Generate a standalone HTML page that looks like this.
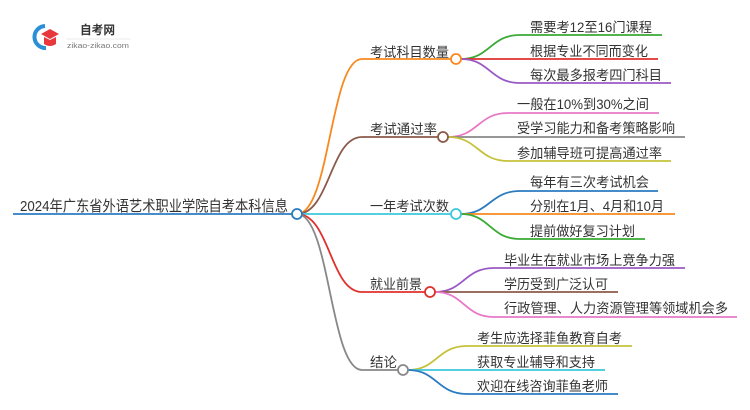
<!DOCTYPE html>
<html><head><meta charset="utf-8"><style>
html,body{margin:0;padding:0;background:#fff;}
svg{display:block;}
text{font-family:"Liberation Sans","Noto Sans CJK SC",sans-serif;fill:#333;font-size:13.5px;}
</style></head><body>
<svg width="750" height="410" viewBox="0 0 750 410" xmlns="http://www.w3.org/2000/svg">
<path d="M45 26 A11 11 0 1 0 46 48" fill="none" stroke="#2a8fd6" stroke-width="4"/>
<path d="M41 34 L50 29 L59 34 L50 39 Z" fill="#e8383d"/>
<path d="M44 37 L44 44 Q50 48 56 44 L56 37 L50 40 Z" fill="#e8383d"/>
<text x="80" y="34" textLength="35" lengthAdjust="spacingAndGlyphs" style="font-size:12px;font-weight:bold;fill:#333">自考网</text>
<line x1="66" y1="39" x2="130" y2="39" stroke="#e4e4e4" stroke-width="0.8"/>
<text x="67" y="48" textLength="62" lengthAdjust="spacingAndGlyphs" style="font-size:7.5px;fill:#777">zikao-zikao.com</text>

<g fill="none" stroke-width="1.8">
<line x1="13" y1="214" x2="292" y2="214" stroke="#2b7bc0"/>
<path d="M297 214 C330 214 330 59 362 59 L451 59" stroke="#f7891e"/>
<path d="M297 214 C330 214 330 137 362 137 L438 137" stroke="#8b5a4a"/>
<path d="M297 214 L451 214" stroke="#3cc8dc"/>
<path d="M297 214 C330 214 330 292 362 292 L425 292" stroke="#e0302c"/>
<path d="M297 214 C330 214 330 370 362 370 L398 370" stroke="#888"/>
<path d="M461 59 C490 59 490 35 520 35 L662 35" stroke="#3aaa35"/>
<path d="M461 59 L658 59" stroke="#e0302c"/>
<path d="M461 59 C490 59 490 83 520 83 L671 83" stroke="#9b59c6"/>
<path d="M448 137 C478 137 478 113 508 113 L659 113" stroke="#e879c8"/>
<path d="M448 137 L685 137" stroke="#888"/>
<path d="M448 137 C478 137 478 161 508 161 L671 161" stroke="#c5c23a"/>
<path d="M461 214 C490 214 490 191 520 191 L658 191" stroke="#2b7bc0"/>
<path d="M461 214 L675 214" stroke="#f7891e"/>
<path d="M461 214 C490 214 490 239 520 239 L645 239" stroke="#3aaa35"/>
<path d="M435 292 C464 292 464 268 494 268 L685 268" stroke="#9b59c6"/>
<path d="M435 292 L618 292" stroke="#8b5a4a"/>
<path d="M435 292 C464 292 464 317 494 317 L737 317" stroke="#e879c8"/>
<path d="M408 370 C437 370 437 346 467 346 L632 346" stroke="#c5c23a"/>
<path d="M408 370 L605 370" stroke="#3cc8dc"/>
<path d="M408 370 C437 370 437 394 467 394 L618 394" stroke="#2b7bc0"/>
</g>
<g fill="#fff" stroke-width="1.8">
<circle cx="297" cy="214" r="5" stroke="#2b7bc0"/>
<circle cx="456" cy="59" r="5" stroke="#f7891e"/>
<circle cx="443" cy="137" r="5" stroke="#8b5a4a"/>
<circle cx="456" cy="214" r="5" stroke="#3cc8dc"/>
<circle cx="430" cy="292" r="5" stroke="#e0302c"/>
<circle cx="403" cy="370" r="5" stroke="#888"/>
</g>
<text x="20" y="211" textLength="268" lengthAdjust="spacingAndGlyphs" style="font-size:15px">2024年广东省外语艺术职业学院自考本科信息</text>
<text x="370" y="57" textLength="79" lengthAdjust="spacingAndGlyphs">考试科目数量</text>
<text x="370" y="134" textLength="67" lengthAdjust="spacingAndGlyphs">考试通过率</text>
<text x="370" y="211" textLength="79" lengthAdjust="spacingAndGlyphs">一年考试次数</text>
<text x="370" y="289" textLength="52" lengthAdjust="spacingAndGlyphs">就业前景</text>
<text x="370" y="367" textLength="27" lengthAdjust="spacingAndGlyphs">结论</text>

<text x="530" y="32" textLength="122" lengthAdjust="spacingAndGlyphs">需要考12至16门课程</text>
<text x="530" y="56" textLength="118" lengthAdjust="spacingAndGlyphs">根据专业不同而变化</text>
<text x="530" y="80" textLength="132" lengthAdjust="spacingAndGlyphs">每次最多报考四门科目</text>
<text x="517" y="109" textLength="132" lengthAdjust="spacingAndGlyphs">一般在10%到30%之间</text>
<text x="517" y="133" textLength="158" lengthAdjust="spacingAndGlyphs">受学习能力和备考策略影响</text>
<text x="517" y="158" textLength="145" lengthAdjust="spacingAndGlyphs">参加辅导班可提高通过率</text>
<text x="530" y="187" textLength="119" lengthAdjust="spacingAndGlyphs">每年有三次考试机会</text>
<text x="530" y="211" textLength="134" lengthAdjust="spacingAndGlyphs">分别在1月、4月和10月</text>
<text x="530" y="236" textLength="105" lengthAdjust="spacingAndGlyphs">提前做好复习计划</text>
<text x="504" y="265" textLength="171" lengthAdjust="spacingAndGlyphs">毕业生在就业市场上竞争力强</text>
<text x="504" y="289" textLength="104" lengthAdjust="spacingAndGlyphs">学历受到广泛认可</text>
<text x="504" y="313" textLength="224" lengthAdjust="spacingAndGlyphs">行政管理、人力资源管理等领域机会多</text>
<text x="477" y="343" textLength="145" lengthAdjust="spacingAndGlyphs">考生应选择菲鱼教育自考</text>
<text x="477" y="367" textLength="118" lengthAdjust="spacingAndGlyphs">获取专业辅导和支持</text>
<text x="477" y="391" textLength="131" lengthAdjust="spacingAndGlyphs">欢迎在线咨询菲鱼老师</text>
</svg>
</body></html>
